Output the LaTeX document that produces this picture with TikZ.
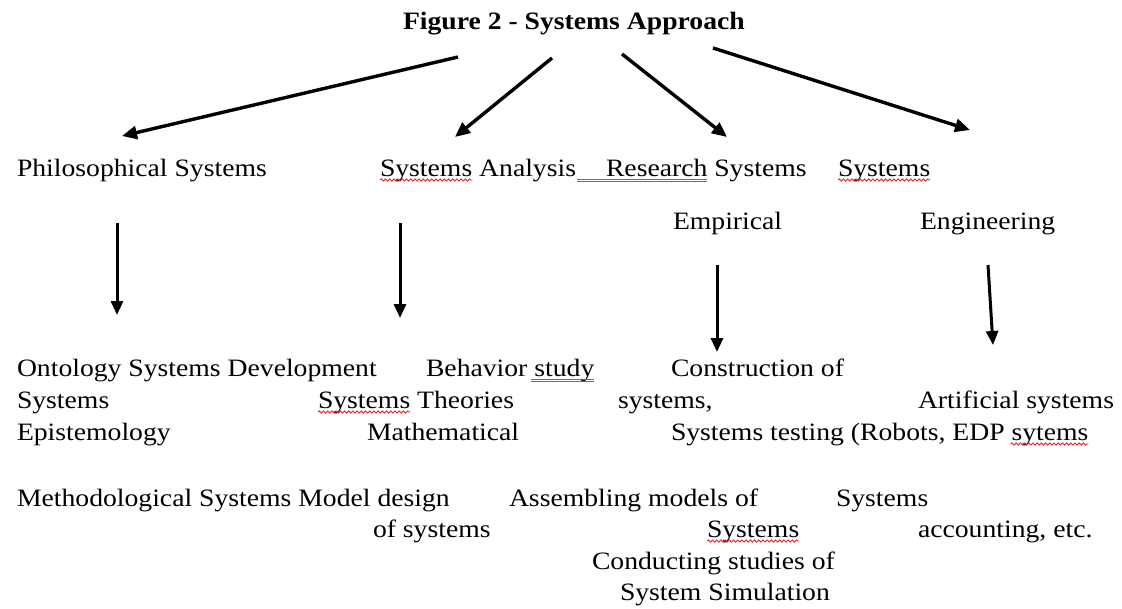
\documentclass[tikz,border=0pt]{standalone}
\usepackage{fontspec}
\setmainfont[FakeStretch=1.107]{Liberation Serif}
\usetikzlibrary{arrows.meta,decorations.pathmorphing}
\definecolor{ulblue}{RGB}{68,114,196}
\definecolor{ulred}{RGB}{230,40,40}
\newcommand{\fsz}{\fontsize{25pt}{31pt}\selectfont}
\tikzset{
  txt/.style={anchor=base west, inner sep=0pt, outer sep=0pt, font=\fsz},
  arr/.style={line width=3.4pt, -{Triangle[length=15pt,width=13pt]}},
  varr/.style={line width=3pt, -{Triangle[length=14pt,width=12pt]}},
  wavy/.style={draw=ulred, line width=0.9pt, decorate,
    decoration={snake, amplitude=1.1pt, segment length=4.2pt}},
  dblul/.style={draw=ulblue, line width=0.9pt}
}
\begin{document}
\begin{tikzpicture}[x=1pt,y=-1pt]
\useasboundingbox (0,0) rectangle (1122,608);
\fill[white] (0,0) rectangle (1122,608);
% title
\node[txt,font=\fsz\bfseries] (title) at (403,29) {Figure 2 - Systems Approach};
% row 1
\node[txt] (phil) at (17,176) {Philosophical Systems};
\node[txt] (sa1) at (380,176) {Systems};
\node[txt] (sa2) at (sa1.base east) {\ Analysis};
\node[txt] (rs1) at (606,176) {Research};
\node[txt] (rs2) at (rs1.base east) {\ Systems};
\node[txt] (es1) at (838,176) {Systems};
% row 2
\node[txt] (emp) at (673,229) {Empirical};
\node[txt] (eng) at (920,229) {Engineering};
% row A
\node[txt] (a1) at (17,376) {Ontology Systems Development};
\node[txt] (a2) at (426,376) {Behavior};
\node[txt] (a2b) at (a2.base east) {\ study};
\node[txt] (a3) at (671,376) {Construction of};
% row B
\node[txt] (b1) at (17,408) {Systems};
\node[txt] (b2) at (318,408) {Systems};
\node[txt] (b2b) at (b2.base east) {\ Theories};
\node[txt] (b3) at (618,408) {systems,};
\node[txt] (b4) at (918,408) {Artificial systems};
% row C
\node[txt] (c1) at (17,440) {Epistemology};
\node[txt] (c2) at (367,440) {Mathematical};
\node[txt] (c3) at (671,440) {Systems testing (Robots, EDP};
\node[txt] (c3b) at (c3.base east) {\ sytems};
% row D
\node[txt] (d1) at (17,506) {Methodological Systems Model design};
\node[txt] (d2) at (509,506) {Assembling models of};
\node[txt] (d3) at (836,506) {Systems};
% row E
\node[txt] (e1) at (373,537) {of systems};
\node[txt] (e2) at (707,537) {Systems};
\node[txt] (e3) at (918,537) {accounting, etc.};
% rows F, G
\node[txt] (f1) at (592,569) {Conducting studies of};
\node[txt] (g1) at (620,600) {System Simulation};
% arrow end points
\coordinate (s1) at (458,57);  \coordinate (t1) at (122,136);
\coordinate (s2) at (552,58);  \coordinate (t2) at (455,137);
\coordinate (s3) at (622,54);  \coordinate (t3) at (727,137);
\coordinate (s4) at (713,48);  \coordinate (t4) at (970,130);
\coordinate (u1) at (117,223); \coordinate (w1) at (117,315);
\coordinate (u2) at (400,223); \coordinate (w2) at (400,318);
\coordinate (u3) at (717,265); \coordinate (w3) at (717,352);
\coordinate (u4) at (988,265); \coordinate (w4) at (993,345);
\draw[arr] (s1) -- (t1);
\draw[arr] (s2) -- (t2);
\draw[arr] (s3) -- (t3);
\draw[arr] (s4) -- (t4);
\draw[varr] (u1) -- (w1);
\draw[varr] (u2) -- (w2);
\draw[varr] (u3) -- (w3);
\draw[varr] (u4) -- (w4);
% spell-check wavy underlines
\draw[wavy] ([yshift=-4pt]sa1.base west) -- ([yshift=-4pt]sa1.base east);
\draw[wavy] ([yshift=-4pt]es1.base west) -- ([yshift=-4pt]es1.base east);
\draw[wavy] ([yshift=-4pt]b2.base west) -- ([yshift=-4pt]b2.base east);
\draw[wavy] ([xshift=6pt,yshift=-4pt]c3b.base west) -- ([yshift=-4pt]c3b.base east);
\draw[wavy] ([yshift=-4pt]e2.base west) -- ([yshift=-4pt]e2.base east);
% blue double underlines
\draw[dblul] ([xshift=-29pt,yshift=-3pt]rs1.base west) -- ([yshift=-3pt]rs1.base east);
\draw[dblul] ([xshift=-29pt,yshift=-5.5pt]rs1.base west) -- ([yshift=-5.5pt]rs1.base east);
\draw[dblul] ([xshift=4pt,yshift=-3pt]a2b.base west) -- ([yshift=-3pt]a2b.base east);
\draw[dblul] ([xshift=4pt,yshift=-5.5pt]a2b.base west) -- ([yshift=-5.5pt]a2b.base east);
\end{tikzpicture}
\end{document}
